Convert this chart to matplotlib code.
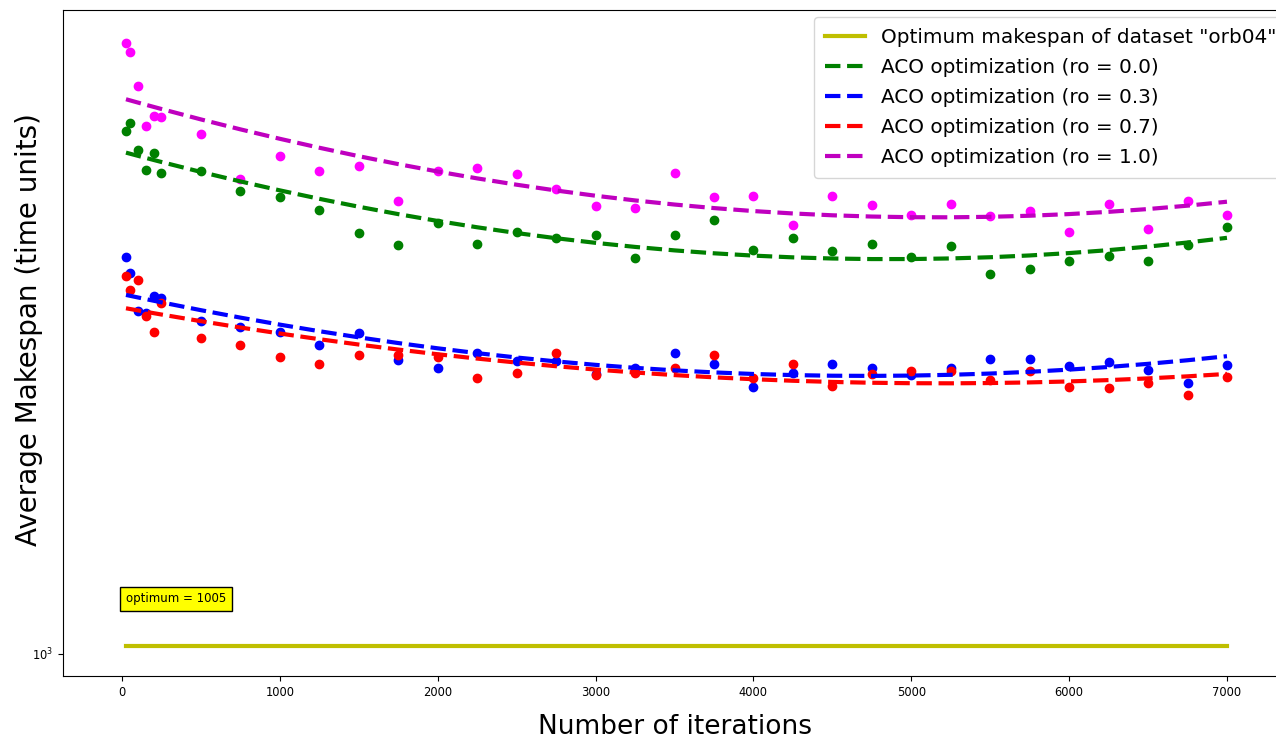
#!/usr/bin/env python
# coding: utf-8

import numpy as np
import matplotlib
matplotlib.use('Agg')
import matplotlib.pyplot as plt
from matplotlib.ticker import NullLocator

# -------------------------- 数据 --------------------------
ITERATIONS = [25, 50, 100, 150, 200, 250, 500, 750, 1000, 1250, 1500, 1750, 2000,
              2250, 2500, 2750, 3000, 3250, 3500, 3750, 4000, 4250, 4500, 4750,
              5000, 5250, 5500, 5750, 6000, 6250, 6500, 6750, 7000]

OPTIMUM = 1005

RO_00 = [1402, 1409, 1385, 1367, 1382, 1364, 1366, 1348, 1343, 1332, 1312, 1302, 1321,
         1303, 1313, 1308, 1311, 1291, 1311, 1323, 1298, 1308, 1297, 1303,
         1292, 1301, 1278, 1282, 1289, 1293, 1289, 1302, 1317]

RO_03 = [1292, 1279, 1248, 1246, 1260, 1258, 1240, 1235, 1231, 1221, 1230, 1209, 1203,
         1214, 1208, 1208, 1198, 1203, 1214, 1206, 1188, 1199, 1206, 1203,
         1197, 1203, 1210, 1210, 1204, 1207, 1201, 1191, 1205]

RO_07 = [1276, 1265, 1273, 1244, 1231, 1254, 1226, 1221, 1211, 1206, 1213, 1213, 1211,
         1195, 1199, 1214, 1197, 1199, 1203, 1213, 1195, 1206, 1189, 1198,
         1200, 1200, 1193, 1200, 1188, 1187, 1191, 1182, 1196]

RO_10 = [1484, 1475, 1443, 1406, 1415, 1414, 1399, 1359, 1379, 1366, 1370, 1340, 1366,
         1369, 1363, 1350, 1335, 1334, 1364, 1343, 1344, 1319, 1344, 1336,
         1328, 1337, 1327, 1331, 1313, 1337, 1316, 1340, 1328]

RO_LABELS = ['0.0', '0.3', '0.7', '1.0']
POINT_COLORS = ['g', 'b', 'r', '#ff00ff']
LINE_COLORS = ['g', 'b', 'r', 'm']


def main():
    fig = plt.figure(figsize=(12.76, 7.40), dpi=100)
    # 右侧坐标轴超出画布（参考图被裁剪）
    ax = fig.add_axes([63 / 1276, 64 / 740, 1223 / 1276, 666 / 740])

    x = np.array(ITERATIONS)
    series = [RO_00, RO_03, RO_07, RO_10]

    # 最优值水平线
    ax.plot(x, [OPTIMUM] * len(x), color='y', lw=3,
            label='Optimum makespan of dataset "orb04"')

    # 散点 + 二次拟合虚线
    for vals, lab, pc, lc in zip(series, RO_LABELS, POINT_COLORS, LINE_COLORS):
        y = np.array(vals, dtype=float)
        ax.scatter(x, y, color=pc, s=36)
        coef = np.polyfit(x, y, 2)
        ax.plot(x, np.polyval(coef, x), '--', color=lc, lw=3,
                label=f'ACO optimization (ro = {lab})')

    ax.text(25, 1036, f'optimum = {OPTIMUM}', fontsize=8.5, va='center',
            bbox=dict(facecolor='yellow', edgecolor='black'))

    ax.set_yscale('log')
    ax.yaxis.set_minor_locator(NullLocator())
    ax.set_ylim(985.6, 1515.7)
    ax.set_xlim(-374, 7374)

    ax.tick_params(labelsize=8.3)
    ax.set_xlabel('Number of iterations', fontsize=19, labelpad=11)
    ax.set_ylabel('Average Makespan (time units)', fontsize=20)
    ax.yaxis.set_label_coords(-0.0165, 0.52)

    ax.legend(loc='upper left', bbox_to_anchor=(0.614, 0.9895),
              borderaxespad=0, fontsize=14.4, labelspacing=0.55, borderpad=0.55)

    fig.savefig('out.png', dpi=100)


if __name__ == "__main__":
    main()
